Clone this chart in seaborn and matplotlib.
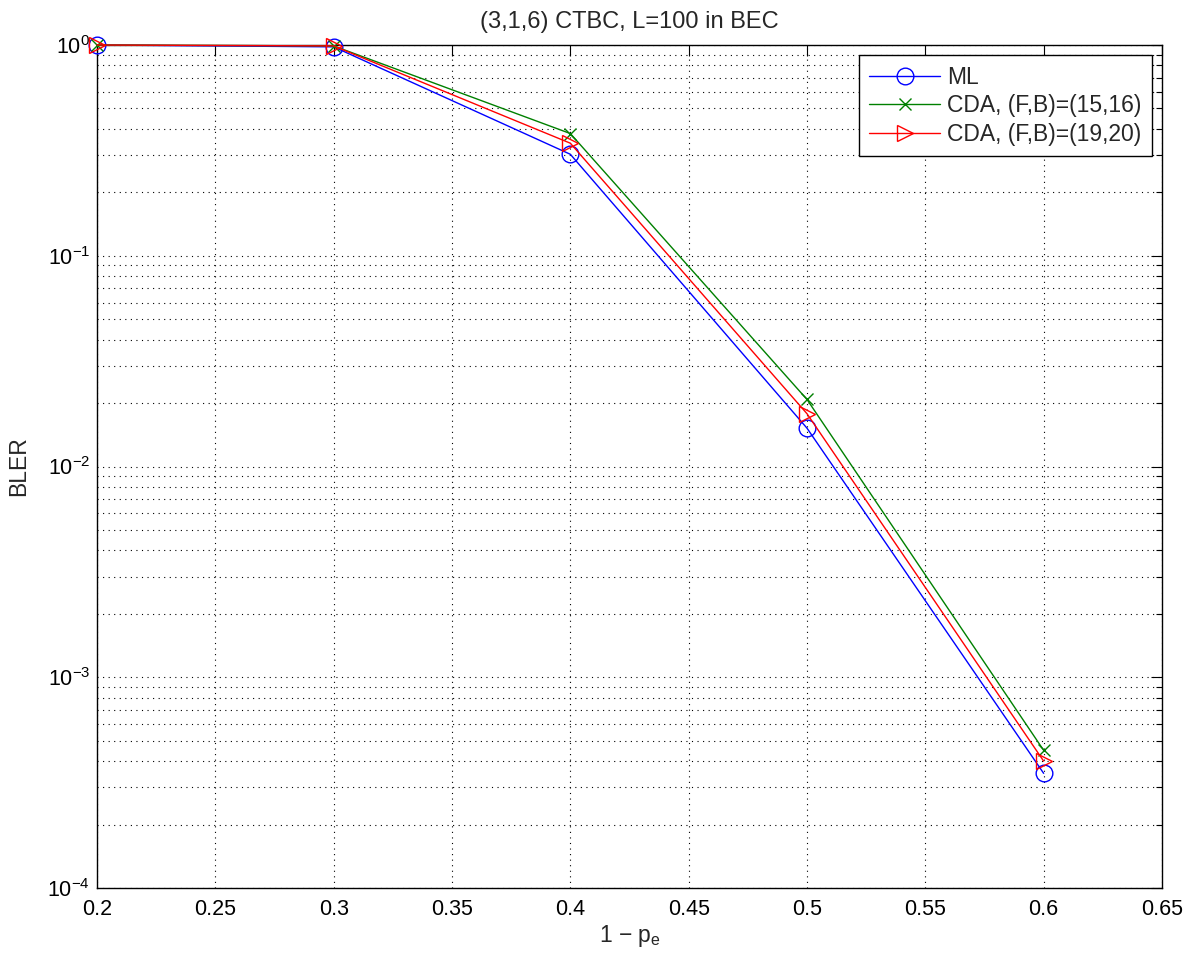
import matplotlib
matplotlib.use("Agg")
import matplotlib.pyplot as plt
import seaborn as sns
import pandas as pd
import numpy as np
from matplotlib.ticker import LogLocator, NullFormatter

x_vals = [0.2, 0.3, 0.4, 0.5, 0.6]
ml = [1.0, 0.98, 0.303, 0.0152, 3.5e-4]
cda_15_16 = [1.0, 0.99, 0.38, 0.0208, 4.5e-4]
cda_19_20 = [1.0, 0.99, 0.342, 0.0178, 4.0e-4]
labels = ["ML", "CDA, (F,B)=(15,16)", "CDA, (F,B)=(19,20)"]
x_ticks = [0.2, 0.25, 0.3, 0.35, 0.4, 0.45, 0.5, 0.55, 0.6, 0.65]

sns.set_style("white")
plt.rcParams['font.family'] = ['Liberation Sans', 'DejaVu Sans']
plt.rcParams['mathtext.fontset'] = 'custom'
plt.rcParams['mathtext.rm'] = 'Liberation Sans'
plt.rcParams['mathtext.it'] = 'Liberation Sans'

FS = 15.5
fig = plt.figure(figsize=(11.92, 9.56), dpi=100)
ax = fig.add_axes([97/1192, 68/956, (1162-97)/1192, (888-45)/956])

series = [(ml, labels[0], 'blue', 'o', 12), (cda_15_16, labels[1], 'green', 'x', 8), (cda_19_20, labels[2], 'red', '>', 12)]
for vals, lab, col, mk, ms in series:
    df = pd.DataFrame({"x": x_vals, "y": vals})
    sns.lineplot(data=df, x="x", y="y", ax=ax, color=col, marker=mk, markersize=ms,
                 markerfacecolor='none', markeredgecolor=col, markeredgewidth=1.0,
                 linewidth=1.0, label=lab, clip_on=False, zorder=5)

ax.set_yscale('log')
ax.set_ylim(1e-4, 1.0)
ax.set_xlim(0.2, 0.65)
ax.set_xticks(x_ticks)
ax.set_xticklabels([f"{t:g}" for t in x_ticks])
ax.yaxis.set_major_locator(LogLocator(base=10, numticks=10))
ax.yaxis.set_minor_locator(LogLocator(base=10, subs=np.arange(2, 10), numticks=100))
ax.yaxis.set_minor_formatter(NullFormatter())

ax.grid(True, which='major', linestyle=(0, (1, 4)), color='black', linewidth=0.8)
ax.grid(True, which='minor', axis='y', linestyle=(0, (1, 4)), color='black', linewidth=0.8)

ax.tick_params(which='both', direction='in', top=True, right=True, labelsize=FS, colors='black')
ax.tick_params(which='major', length=8, width=0.8)
ax.tick_params(which='minor', length=4, width=0.8)
ax.tick_params(axis='x', which='major', pad=8)
ax.tick_params(axis='y', which='major', pad=5)
for s in ax.spines.values():
    s.set_color('black')
    s.set_linewidth(1.0)

ax.set_title("(3,1,6) CTBC, L=100 in BEC", fontsize=17, pad=12)
ax.set_xlabel(r"1 $-$ p$_\mathregular{e}$", fontsize=FS + 1, labelpad=2)
ax.set_ylabel("BLER", fontsize=FS + 1, labelpad=12)

leg = ax.legend(loc='upper right', fontsize=16.5, frameon=True, fancybox=False,
                edgecolor='black', framealpha=1, borderaxespad=0.45, handlelength=3.1,
                borderpad=0.45, labelspacing=0.25, handletextpad=0.3)
leg.get_frame().set_linewidth(1.0)

fig.savefig("out.png", dpi=100, facecolor='white')
